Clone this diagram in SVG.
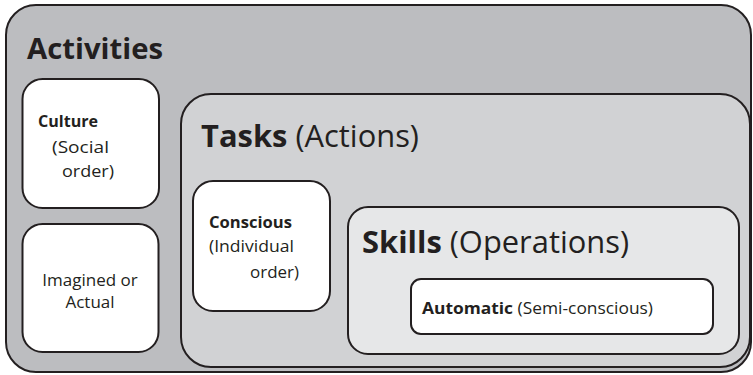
<svg xmlns="http://www.w3.org/2000/svg" width="753" height="375" viewBox="0 0 753 375">
<style>
.box{stroke:#231f20;stroke-width:2}
.t{font-family:"Open Sans","Noto Sans","Liberation Sans",sans-serif;fill:#231f20}
.b{font-weight:bold}
.r{font-weight:normal}
.s16{font-size:16px}
.s17{font-size:17px}
.big{font-size:31px}
</style>
<rect width="753" height="375" fill="#ffffff"/>
<g id="activities">
<rect class="box" x="6" y="5" width="745" height="367" rx="30" fill="#bcbdc0"/>
<text class="t b" x="27" y="59" font-size="29" textLength="136" lengthAdjust="spacingAndGlyphs">Activities</text>
</g>
<g id="culture">
<rect class="box" x="22.5" y="79" width="136.5" height="129" rx="20" fill="#ffffff"/>
<text class="t b s16" x="38" y="127" textLength="60" lengthAdjust="spacingAndGlyphs">Culture</text>
<text class="t r s17" x="52" y="153" textLength="57" lengthAdjust="spacingAndGlyphs">(Social</text>
<text class="t r s17" x="62" y="177" textLength="52" lengthAdjust="spacingAndGlyphs">order)</text>
</g>
<g id="imagined">
<rect class="box" x="22.5" y="224" width="136" height="128" rx="20" fill="#ffffff"/>
<text class="t r s17" x="90" y="286" text-anchor="middle">Imagined or</text>
<text class="t r s17" x="90" y="308" text-anchor="middle">Actual</text>
</g>
<g id="tasks">
<rect class="box" x="181" y="94" width="569" height="273" rx="30" fill="#d1d2d4"/>
<text class="t big" x="201" y="147" textLength="218" lengthAdjust="spacingAndGlyphs"><tspan class="b">Tasks</tspan><tspan class="r"> (Actions)</tspan></text>
</g>
<g id="conscious">
<rect class="box" x="193" y="181" width="137" height="130" rx="20" fill="#ffffff"/>
<text class="t b s16" x="209" y="228" textLength="83" lengthAdjust="spacingAndGlyphs">Conscious</text>
<text class="t r s17" x="209" y="252" textLength="85" lengthAdjust="spacingAndGlyphs">(Individual</text>
<text class="t r s17" x="250" y="278" textLength="49" lengthAdjust="spacingAndGlyphs">order)</text>
</g>
<g id="skills">
<rect class="box" x="348" y="207" width="391" height="147" rx="20" fill="#e6e7e8"/>
<text class="t big" x="362" y="253" textLength="267" lengthAdjust="spacingAndGlyphs"><tspan class="b">Skills</tspan><tspan class="r"> (Operations)</tspan></text>
</g>
<g id="automatic">
<rect class="box" x="411" y="279" width="302" height="55" rx="10" fill="#ffffff"/>
<text class="t s16" x="422" y="314" textLength="231" lengthAdjust="spacingAndGlyphs"><tspan class="b">Automatic</tspan><tspan class="r"> (Semi-conscious)</tspan></text>
</g>
<g id="connectors"></g>
</svg>
